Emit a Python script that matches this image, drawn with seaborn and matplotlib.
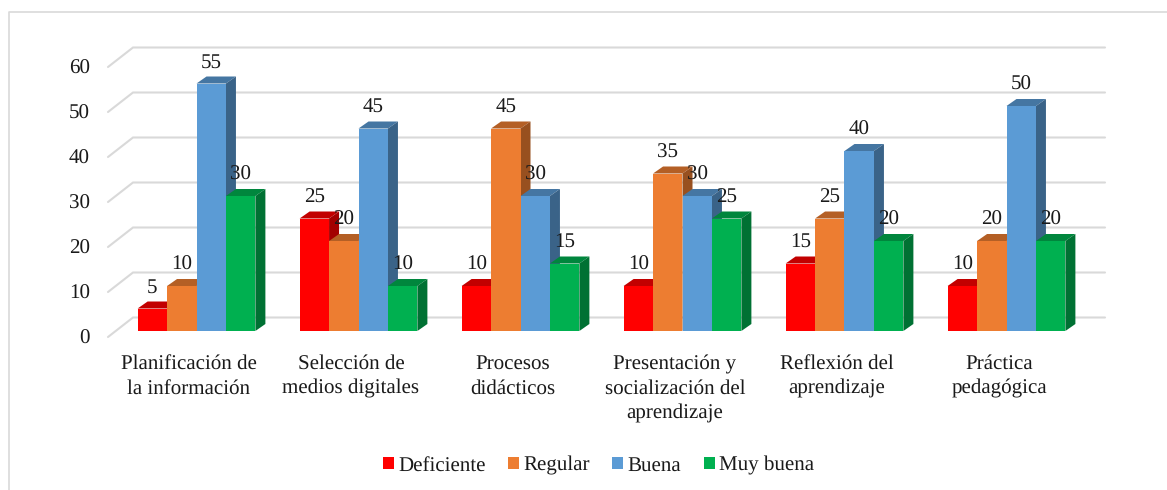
import pandas as pd
import matplotlib.pyplot as plt
import seaborn as sns
from matplotlib.lines import Line2D
from matplotlib.patches import Polygon
from matplotlib.transforms import Affine2D

categorias = ['Planificación de\nla información', 'Selección de\nmedios digitales',
              'Procesos\ndidácticos', 'Presentación y\nsocialización del\naprendizaje',
              'Reflexión del\naprendizaje', 'Práctica\npedagógica']
deficiente = [5, 25, 10, 10, 15, 10]
regular = [10, 20, 45, 35, 25, 20]
buena = [55, 45, 30, 30, 40, 50]
muy_buena = [30, 10, 15, 25, 20, 20]
niveles = ['Deficiente', 'Regular', 'Buena', 'Muy buena']
colores = ['#FF0000', '#ED7D31', '#5B9BD5', '#00B050']
ticks_y = [0, 10, 20, 30, 40, 50, 60]

filas = []
for nivel, serie in zip(niveles, [deficiente, regular, buena, muy_buena]):
    for cat, valor in zip(categorias, serie):
        filas.append({'categoria': cat, 'nivel': nivel, 'valor': valor})
data = pd.DataFrame(filas)

sns.set_theme(style='white')
plt.rcParams['font.family'] = ['Liberation Serif', 'DejaVu Serif']
plt.rcParams['text.color'] = '#1a1a1a'
plt.rcParams['text.hinting'] = 'no_hinting'
plt.rcParams['text.hinting_factor'] = 1
FS = 15.4

W, H = 1167, 490
fig = plt.figure(figsize=(W / 100, H / 100), dpi=100)
ax = fig.add_axes([108 / W, (H - 337) / H, 972 / W, 270 / H])

sns.barplot(data=data, x='categoria', y='valor', hue='nivel', hue_order=niveles,
            palette=colores, width=0.727, gap=0, saturation=1, ax=ax, zorder=3,
            linewidth=0, edgecolor='none')
ax.set_xlim(-0.5, 5.5)
ax.set_ylim(0, 60)
ax.set_xlabel('')
ax.set_ylabel('')
ax.set_yticks(ticks_y)
ax.tick_params(axis='y', length=0, pad=13, labelsize=FS, labelcolor='#1a1a1a')
ax.tick_params(axis='x', length=0, pad=12.5, labelsize=FS, labelcolor='#1a1a1a')
for t in ax.get_xticklabels():
    t.set_linespacing(1.38)
for t in ax.get_yticklabels():
    t.set_verticalalignment('center_baseline')
sns.despine(ax=ax, left=True, bottom=True)

# pixel sizes turned into data units
px_x = 6 / 972
px_y = 60 / 270

# back wall of the fake 3d box
for v in ticks_y:
    ax.plot([-0.5, -0.5 + 25 * px_x, 5.5 + 25 * px_x], [v, v + 19.5 * px_y, v + 19.5 * px_y],
            color='#d9d9d9', lw=1.5, clip_on=False, zorder=1, solid_joinstyle='miter')


def oscurecer(color, f):
    r, g, b = plt.matplotlib.colors.to_rgb(color)
    return (r * f, g * f, b * f)


# bars sit halfway into the floor depth
mover = ax.transData + Affine2D().translate(7.5, 6)
dx = 10 * px_x
dy = 7 * px_y

orden = 3
for cont, color in zip(ax.containers, colores):
    for bar in cont:
        x0 = bar.get_x()
        x1 = x0 + bar.get_width()
        h = bar.get_height()
        tapa = Polygon([(x0, h), (x1, h), (x1 + dx, h + dy), (x0 + dx, h + dy)],
                       facecolor=oscurecer(color, 0.76), edgecolor='none',
                       transform=mover, clip_on=False, zorder=orden)
        lado = Polygon([(x1, 0), (x1 + dx, dy), (x1 + dx, h + dy), (x1, h)],
                       facecolor=oscurecer(color, 0.64), edgecolor='none',
                       transform=mover, clip_on=False, zorder=orden)
        ax.add_patch(tapa)
        ax.add_patch(lado)
        bar.set_transform(mover)
        bar.set_clip_on(False)
        bar.set_zorder(orden + 0.5)
        ax.annotate(f'{h:.0f}', xy=(x0 + bar.get_width() / 2, h), xycoords=mover,
                    xytext=(0, 21), textcoords='offset pixels', ha='center', va='center',
                    fontsize=FS, color='#1a1a1a', zorder=20, annotation_clip=False)
    orden += 1

sns.move_legend(ax, 'center', bbox_to_anchor=(598.5 / W, (H - 465.5) / H), bbox_transform=fig.transFigure,
                ncol=4, frameon=False, title=None, fontsize=FS,
                handlelength=0.52, handleheight=0.52, handletextpad=0.2, columnspacing=1.05)

# chart frame, only top and left show in the crop
fig.add_artist(Line2D([8.5 / W, 8.5 / W, 1], [0, (H - 12) / H, (H - 12) / H],
                      color='#d9d9d9', lw=1.2, transform=fig.transFigure))

plt.savefig('out.png', dpi=100)
